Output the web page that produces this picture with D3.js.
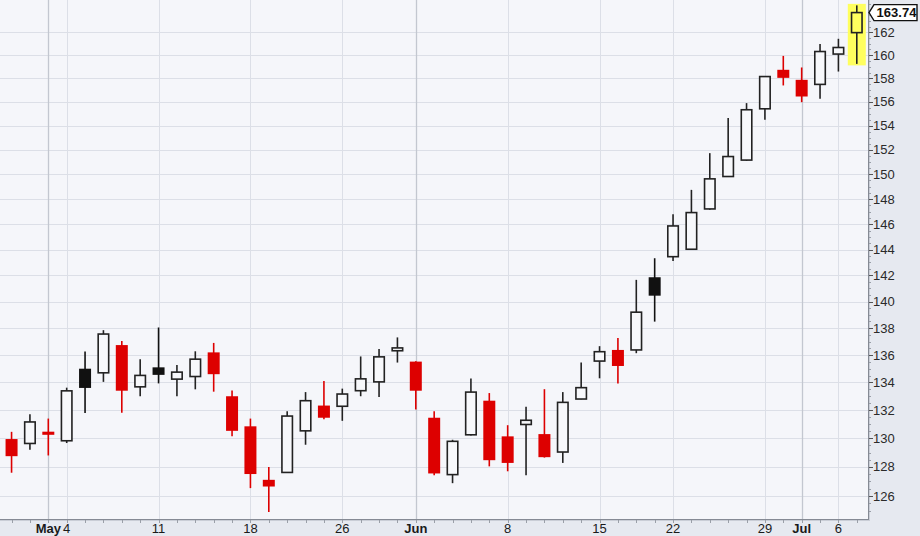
<!DOCTYPE html>
<html>
<head>
<meta charset="utf-8">
<script src="https://cdn.jsdelivr.net/npm/d3@7/dist/d3.min.js"></script>
<style>
  html, body { margin: 0; padding: 0; background: #e6e9f0; }
  svg { display: block; }
  text { font-family: "Liberation Sans", Arial, sans-serif; }
</style>
</head>
<body>
<svg id="chart" width="920" height="536"></svg>
<script>
// ---- Data (2026 trading days) ----
const dates = ["Apr 29","Apr 30","May 1","May 4","May 5","May 6","May 7","May 8",
  "May 11","May 12","May 13","May 14","May 15","May 18","May 19","May 20","May 21","May 22",
  "May 26","May 27","May 28","May 29","Jun 1","Jun 2","Jun 3","Jun 4","Jun 5",
  "Jun 8","Jun 9","Jun 10","Jun 11","Jun 12","Jun 15","Jun 16","Jun 17","Jun 18",
  "Jun 22","Jun 23","Jun 24","Jun 25","Jun 26","Jun 29","Jun 30","Jul 1","Jul 2","Jul 6","Jul 7"];
const opens  = [129.95,129.64,130.47,129.83,135.0,134.7,136.74,133.68,135.1,134.24,134.43,136.2,133.0,130.85,127.11,127.62,130.53,132.33,132.28,133.4,134.04,136.32,135.52,131.46,127.47,130.25,132.68,130.14,130.98,130.3,129.04,132.8,135.56,136.38,136.38,141.86,143.45,144.03,147.21,149.82,151.16,155.42,158.74,157.88,157.49,160.1,161.97];
const highs  = [130.46,131.7,131.4,133.62,136.27,137.85,137.05,135.7,138.05,135.28,136.28,136.9,133.42,131.4,128.0,131.93,133.3,134.1,133.55,135.9,136.45,137.31,135.55,131.93,129.9,134.28,133.23,130.93,132.24,133.51,133.3,135.45,136.66,137.27,141.66,143.33,146.79,148.74,151.73,154.64,155.9,158.2,159.94,158.94,160.97,161.43,164.38];
const lows   = [127.6,129.2,128.8,129.67,131.8,134.04,131.82,133.0,133.93,133.0,133.5,133.33,130.14,126.54,124.92,127.6,129.55,131.35,131.24,133.0,132.95,135.45,132.05,127.42,126.88,130.2,128.04,127.7,127.42,128.65,128.28,132.78,134.3,133.93,136.14,138.49,143.12,144.0,147.15,149.8,151.1,154.5,157.4,155.98,156.26,158.59,159.25];
const closes = [128.75,131.16,130.25,133.39,133.6,137.56,133.4,134.51,134.55,134.75,135.7,134.6,130.53,127.51,126.65,131.58,132.68,131.46,133.16,134.26,135.87,136.53,133.4,127.55,129.79,133.3,128.47,128.28,131.28,128.68,132.56,133.62,136.25,135.2,139.2,140.45,145.86,146.92,149.63,151.45,155.34,158.16,158.05,156.46,160.32,160.67,163.74];

const yTickValues = [126,128,130,132,134,136,138,140,142,144,146,148,150,152,154,156,158,160,162];
const xLabelIndex = [2, 3, 8, 13, 18, 22, 27, 32, 36, 41, 43, 45];
const xLabelText  = ["May","4","11","18","26","Jun","8","15","22","29","Jul","6"];
const xLabelBold  = [true,false,false,false,false,true,false,false,false,false,true,false];
const lastValue = 163.74;

// ---- Layout ----
const W = 920, H = 536;
const plotR = 868, plotB = 519;
const svg = d3.select("#chart");

const x = d3.scaleLinear().domain([-0.629, 46.61]).range([0, plotR]);
const y = d3.scaleLog().domain([124.44, 164.86]).range([plotB, 0]);

// panel background
svg.append("rect").attr("width", W).attr("height", H).attr("fill", "#e6e9f0");
// plot shadow
svg.append("rect").attr("x", 0).attr("y", 0).attr("width", plotR + 2).attr("height", plotB + 2).attr("fill", "#c9cdd6");
svg.append("rect").attr("x", 0).attr("y", 0).attr("width", plotR).attr("height", plotB).attr("fill", "#f5f6fa");

// horizontal grid
svg.append("g").selectAll("line").data(yTickValues).join("line")
  .attr("x1", 0).attr("x2", plotR)
  .attr("y1", d => Math.round(y(d)) + 0.5).attr("y2", d => Math.round(y(d)) + 0.5)
  .attr("stroke", "#dcdfe7").attr("stroke-width", 1);

// vertical grid
svg.append("g").selectAll("line").data(xLabelIndex).join("line")
  .attr("x1", d => Math.round(x(d)) + 0.5).attr("x2", d => Math.round(x(d)) + 0.5)
  .attr("y1", 0).attr("y2", plotB)
  .attr("stroke", (d, i) => xLabelBold[i] ? "#c3c7d0" : "#dcdfe7").attr("stroke-width", (d, i) => xLabelBold[i] ? 1.3 : 1);

// last candle highlight
const lastI = closes.length - 1;
svg.append("rect")
  .attr("x", x(lastI) - 9).attr("width", 18)
  .attr("y", y(highs[lastI]) - 1.5).attr("height", y(lows[lastI]) - y(highs[lastI]) + 3)
  .attr("fill", "#ffff5e");

// candles
const data = dates.map((d, i) => ({
  i, date: d, o: opens[i], h: highs[i], l: lows[i], c: closes[i],
  prev: i > 0 ? closes[i - 1] : null
}));
function candleColor(d) {
  const down = d.prev === null ? true : d.c < d.prev;
  return down ? "#dd0000" : "#111111";
}
const bw = 12;
const g = svg.append("g");
const cg = g.selectAll("g").data(data).join("g");
cg.append("line")
  .attr("x1", d => x(d.i)).attr("x2", d => x(d.i))
  .attr("y1", d => y(d.h)).attr("y2", d => y(d.l))
  .attr("stroke", d => d.c >= d.o ? "#222" : candleColor(d)).attr("stroke-width", 1.6);
cg.append("rect")
  .attr("x", d => x(d.i) - bw / 2 + (d.c >= d.o ? 0.75 : 0))
  .attr("width", d => d.c >= d.o ? bw - 1.5 : bw)
  .attr("y", d => Math.min(y(d.o), y(d.c)))
  .attr("height", d => Math.max(1.5, Math.abs(y(d.o) - y(d.c))))
  .attr("fill", d => d.c >= d.o ? (d.i === lastI ? "#ffff5e" : "#f7f8fb") : candleColor(d))
  .attr("stroke", d => d.c >= d.o ? "#222" : "none")
  .attr("stroke-width", 1.6);

// right axis
svg.append("line").attr("x1", plotR + 0.5).attr("x2", plotR + 0.5).attr("y1", 0).attr("y2", plotB + 1)
  .attr("stroke", "#858a94").attr("stroke-width", 1);
const minor = d3.range(125, 165, 0.5);
svg.append("g").selectAll("line").data(minor).join("line")
  .attr("x1", plotR + 1).attr("x2", plotR + 3)
  .attr("y1", d => Math.round(y(d)) + 0.5).attr("y2", d => Math.round(y(d)) + 0.5)
  .attr("stroke", "#9a9fa8");
svg.append("g").selectAll("text").data(yTickValues).join("text")
  .attr("x", plotR + 5).attr("y", d => y(d) + 4.5)
  .attr("font-size", 13).attr("fill", "#2a2a2a")
  .text(d => d);
svg.append("g").selectAll("line").data(yTickValues).join("line")
  .attr("x1", plotR + 1).attr("x2", plotR + 5)
  .attr("y1", d => Math.round(y(d)) + 0.5).attr("y2", d => Math.round(y(d)) + 0.5)
  .attr("stroke", "#555");

// bottom axis
svg.append("line").attr("x1", 0).attr("x2", plotR + 1).attr("y1", plotB + 0.5).attr("y2", plotB + 0.5)
  .attr("stroke", "#858a94");
svg.append("g").selectAll("line").data(data).join("line")
  .attr("x1", d => Math.round(x(d.i)) + 0.5).attr("x2", d => Math.round(x(d.i)) + 0.5)
  .attr("y1", plotB + 1).attr("y2", plotB + 4)
  .attr("stroke", "#9a9fa8");
svg.append("g").selectAll("text").data(xLabelIndex).join("text")
  .attr("x", d => x(d)).attr("y", 533)
  .attr("text-anchor", "middle")
  .attr("font-size", 13)
  .attr("font-weight", (d, i) => xLabelBold[i] ? "bold" : "normal")
  .attr("fill", "#1a1a1a")
  .text((d, i) => xLabelText[i]);

// last value label
const ly = y(lastValue);
const lx0 = plotR + 1, lx1 = plotR + 6, lx2 = 917;
svg.append("path")
  .attr("d", `M${lx0},${ly} L${lx1},${ly - 8} L${lx2},${ly - 8} L${lx2},${ly + 8} L${lx1},${ly + 8} Z`)
  .attr("fill", "#ffffff").attr("stroke", "#111").attr("stroke-width", 1.4);
svg.append("text").attr("x", (lx1 + lx2) / 2 + 1).attr("y", ly + 4.8)
  .attr("text-anchor", "middle").attr("font-size", 13).attr("font-weight", "bold").attr("fill", "#111")
  .text(lastValue.toFixed(2));
</script>
</body>
</html>
